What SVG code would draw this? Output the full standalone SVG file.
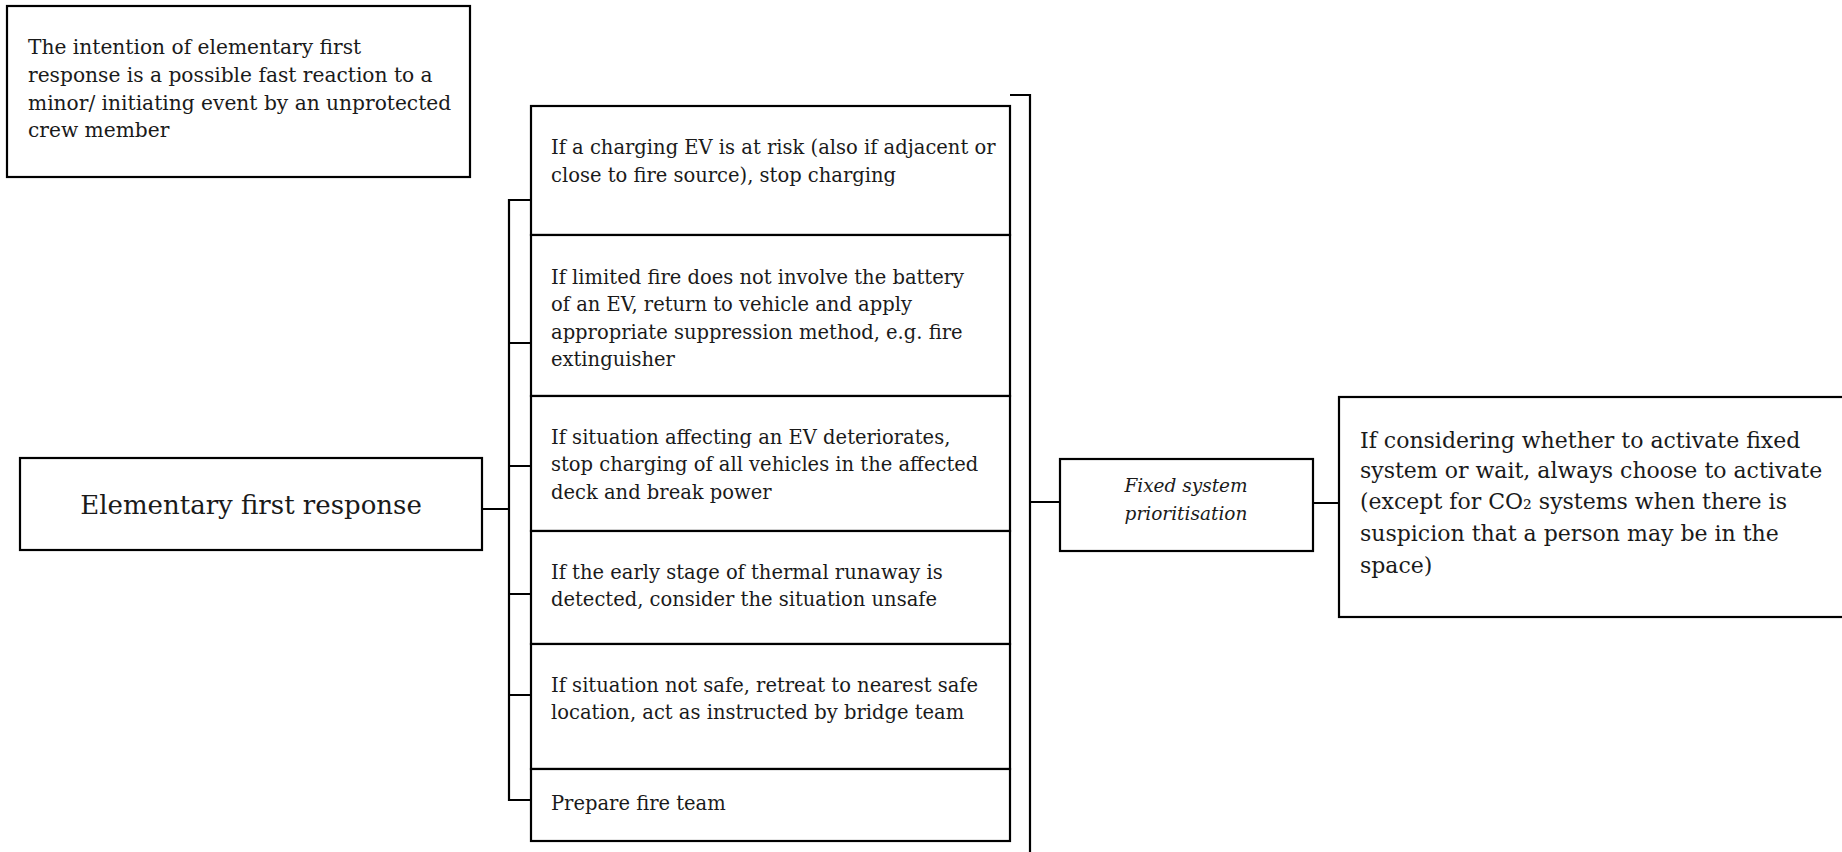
<svg xmlns="http://www.w3.org/2000/svg" width="1842" height="852" viewBox="0 0 1842 852">
<style>
.box{fill:#fff;stroke:#000;stroke-width:2.2}
.ln{fill:none;stroke:#000;stroke-width:2.2}
.t{font-family:"DejaVu Serif","Liberation Serif",serif;font-size:19.5px;fill:#1a1a1a}
.tl{font-family:"DejaVu Serif","Liberation Serif",serif;font-size:20.2px;fill:#1a1a1a}
.tb{font-family:"DejaVu Serif","Liberation Serif",serif;font-size:22px;fill:#1a1a1a}
.tt{font-family:"DejaVu Serif","Liberation Serif",serif;font-size:26px;fill:#1a1a1a}
.ti{font-family:"DejaVu Serif","Liberation Serif",serif;font-size:18.5px;font-style:italic;fill:#1a1a1a}
</style>
<rect width="1842" height="852" fill="#fff"/>
<g id="connectors">
<path class="ln" d="M482 509H509M531 200H509V800H531M509 343H531M509 466H531M509 594H531M509 695H531"/>
<path class="ln" d="M1010 95H1030V852M1030 502H1060M1313 503H1339"/>
</g>
<g id="intro">
<rect class="box" x="7" y="6" width="463" height="171"/>
<text class="tl" x="28" y="54">The intention of elementary first</text>
<text class="tl" x="28" y="82">response is a possible fast reaction to a</text>
<text class="tl" x="28" y="110">minor/ initiating event by an unprotected</text>
<text class="tl" x="28" y="137">crew member</text>
</g>
<g id="elementary">
<rect class="box" x="20" y="458" width="462" height="92"/>
<text class="tt" x="251" y="514" text-anchor="middle">Elementary first response</text>
</g>
<g id="step1">
<rect class="box" x="531" y="106" width="479" height="129"/>
<text class="t" x="551" y="154">If a charging EV is at risk (also if adjacent or</text>
<text class="t" x="551" y="182">close to fire source), stop charging</text>
</g>
<g id="step2">
<rect class="box" x="531" y="235" width="479" height="161"/>
<text class="t" x="551" y="284">If limited fire does not involve the battery</text>
<text class="t" x="551" y="311">of an EV, return to vehicle and apply</text>
<text class="t" x="551" y="339">appropriate suppression method, e.g. fire</text>
<text class="t" x="551" y="366">extinguisher</text>
</g>
<g id="step3">
<rect class="box" x="531" y="396" width="479" height="135"/>
<text class="t" x="551" y="444">If situation affecting an EV deteriorates,</text>
<text class="t" x="551" y="471">stop charging of all vehicles in the affected</text>
<text class="t" x="551" y="499">deck and break power</text>
</g>
<g id="step4">
<rect class="box" x="531" y="531" width="479" height="113"/>
<text class="t" x="551" y="579">If the early stage of thermal runaway is</text>
<text class="t" x="551" y="606">detected, consider the situation unsafe</text>
</g>
<g id="step5">
<rect class="box" x="531" y="644" width="479" height="125"/>
<text class="t" x="551" y="692">If situation not safe, retreat to nearest safe</text>
<text class="t" x="551" y="719">location, act as instructed by bridge team</text>
</g>
<g id="step6">
<rect class="box" x="531" y="769" width="479" height="72"/>
<text class="t" x="551" y="810">Prepare fire team</text>
</g>
<g id="fixed">
<rect class="box" x="1060" y="459" width="253" height="92"/>
<text class="ti" x="1186" y="492" text-anchor="middle">Fixed system</text>
<text class="ti" x="1186" y="520" text-anchor="middle">prioritisation</text>
</g>
<g id="activate">
<rect class="box" x="1339" y="397" width="520" height="220"/>
<text class="tb" x="1360" y="448">If considering whether to activate fixed</text>
<text class="tb" x="1360" y="478">system or wait, always choose to activate</text>
<text class="tb" x="1360" y="509">(except for CO₂ systems when there is</text>
<text class="tb" x="1360" y="541">suspicion that a person may be in the</text>
<text class="tb" x="1360" y="573">space)</text>
</g>
</svg>
